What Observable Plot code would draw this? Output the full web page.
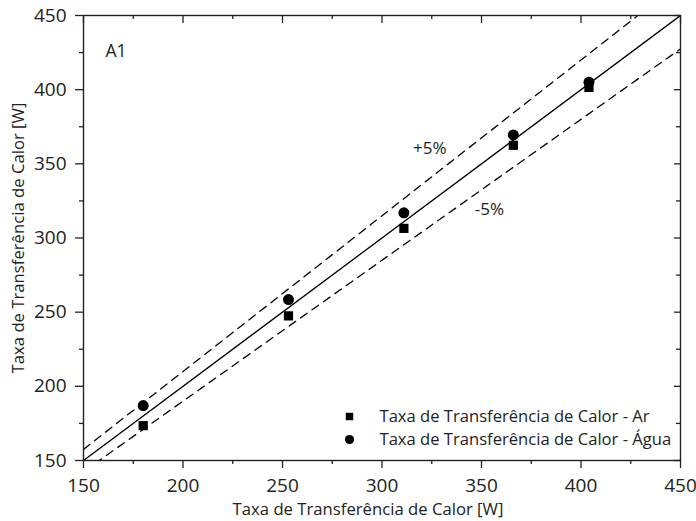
<!DOCTYPE html>
<html>
<head>
<meta charset="utf-8">
<script src="https://cdn.jsdelivr.net/npm/d3@7"></script>
<script src="https://cdn.jsdelivr.net/npm/@observablehq/plot@0.6"></script>
<style>
  html, body { margin: 0; padding: 0; background: #fff; }
  #chart svg { display: block; }
</style>
</head>
<body>
<div id="chart"></div>
<script>
// ---- data ----
const xValues   = [180, 253, 311, 366, 404];
const arValues  = [173.5, 247.5, 306.5, 362.5, 401.5];
const aguaValues = [187, 258.5, 317, 369.5, 405];
const seriesNames = ["Taxa de Transferência de Calor - Ar", "Taxa de Transferência de Calor - Água"];
const seriesSymbols = ["square", "circle"];

const refX = [150, 450];
const refFactors = [1, 1.05, 0.95];

const majorTicks = [150, 200, 250, 300, 350, 400, 450];
const minorTicks = [175, 225, 275, 325, 375, 425];

const annotLabels = ["+5%", "-5%"];
const annotX = [324, 354];
const annotY = [360.5, 319.5];

const panelLabel = "A1";
const axisTitle = "Taxa de Transferência de Calor [W]";

// ---- build tables ----
const arData = xValues.map((x, i) => ({x, y: arValues[i]}));
const aguaData = xValues.map((x, i) => ({x, y: aguaValues[i]}));
const refLines = refFactors.map(k => refX.map(x => ({x, y: k * x, k})));
const annots = annotLabels.map((t, i) => ({t, x: annotX[i], y: annotY[i]}));

const W = 696, H = 521;
const mT = 15, mB = 61, mL = 83, mR = 16;
const innerH = H - mT - mB, innerW = W - mL - mR;
const font = "'Open Sans', sans-serif";
const ink = "#222";

const chart = Plot.plot({
  width: W, height: H,
  marginTop: mT, marginBottom: mB, marginLeft: mL, marginRight: mR,
  style: {fontFamily: font, fontSize: "16px", color: ink, background: "#fff"},
  x: {domain: [150, 450], axis: null},
  y: {domain: [150, 450], axis: null},
  marks: [
    // reference lines
    ...refLines.map((pts, i) => Plot.line(pts, {
      x: "x", y: "y", clip: true, stroke: "#000",
      strokeWidth: 1.3,
      strokeDasharray: refFactors[i] === 1 ? null : "8,6"
    })),
    // frame
    Plot.frame({stroke: ink, strokeWidth: 1.4}),
    // bottom ticks (outward)
    Plot.ruleX(majorTicks, {x: d => d, insetTop: innerH, insetBottom: -8, stroke: ink, strokeWidth: 1.3}),
    Plot.ruleX(minorTicks, {x: d => d, insetTop: innerH, insetBottom: -4, stroke: ink, strokeWidth: 1.3}),
    // top ticks (inward)
    Plot.ruleX(majorTicks, {x: d => d, insetBottom: innerH - 8, stroke: ink, strokeWidth: 1.3}),
    Plot.ruleX(minorTicks, {x: d => d, insetBottom: innerH - 4, stroke: ink, strokeWidth: 1.3}),
    // left ticks (outward)
    Plot.ruleY(majorTicks, {y: d => d, insetRight: innerW, insetLeft: -8, stroke: ink, strokeWidth: 1.3}),
    Plot.ruleY(minorTicks, {y: d => d, insetRight: innerW, insetLeft: -4, stroke: ink, strokeWidth: 1.3}),
    // right ticks (inward)
    Plot.ruleY(majorTicks, {y: d => d, insetLeft: innerW - 6, stroke: ink, strokeWidth: 1.3}),
    Plot.ruleY(minorTicks, {y: d => d, insetLeft: innerW - 4, stroke: ink, strokeWidth: 1.3}),
    // tick labels
    Plot.text(majorTicks, {x: d => d, text: d => String(d), frameAnchor: "bottom", dy: 25, lineAnchor: "middle", textAnchor: "middle", fontSize: 19, fill: ink}),
    Plot.text(majorTicks, {y: d => d, text: d => String(d), frameAnchor: "left", dx: -17, textAnchor: "end", lineAnchor: "middle", fontSize: 19, fill: ink}),
    // axis titles
    Plot.text([axisTitle], {text: d => d, frameAnchor: "bottom", dx: -14, dy: 49, lineAnchor: "middle", textAnchor: "middle", fontSize: 16.7, fill: ink}),
    Plot.text([axisTitle], {text: d => d, frameAnchor: "left", dx: -65, rotate: -90, textAnchor: "middle", lineAnchor: "middle", fontSize: 16.7, fill: ink}),
    // data
    Plot.dot(arData, {x: "x", y: "y", symbol: "square", r: 5.2, fill: "#000", stroke: "none"}),
    Plot.dot(aguaData, {x: "x", y: "y", symbol: "circle", r: 5.5, fill: "#000", stroke: "none"}),
    // annotations
    Plot.text(annots, {x: "x", y: "y", text: "t", fontSize: 17, fill: ink}),
    Plot.text([panelLabel], {text: d => d, frameAnchor: "top-left", dx: 22, dy: 36, textAnchor: "start", lineAnchor: "middle", fontSize: 17.5, fill: ink}),
    // legend
    ...seriesNames.map((name, i) => Plot.dot([name], {
      frameAnchor: "bottom-left", dx: 266, dy: -44 + 23 * i,
      symbol: seriesSymbols[i], r: i === 0 ? 4.2 : 4.6, fill: "#000", stroke: "none"
    })),
    ...seriesNames.map((name, i) => Plot.text([name], {
      text: d => d, frameAnchor: "bottom-left", dx: 296, dy: -44 + 23 * i,
      textAnchor: "start", lineAnchor: "middle", fontSize: 16.6, fill: ink
    }))
  ]
});
document.getElementById("chart").appendChild(chart);
</script>
</body>
</html>
